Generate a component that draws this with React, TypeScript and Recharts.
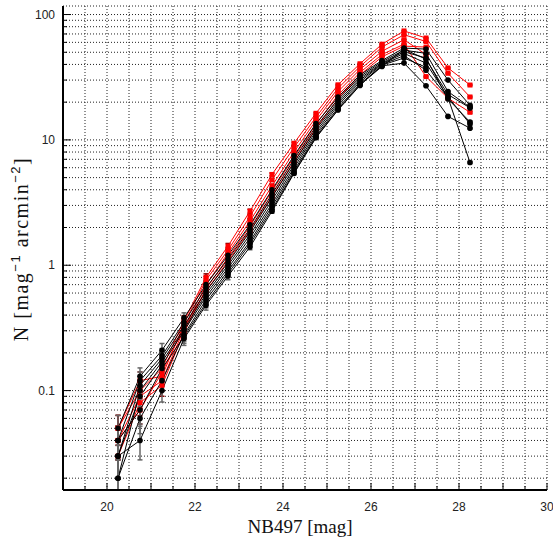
import React from "react";
import { LineChart, Line, XAxis, YAxis, CartesianGrid, ErrorBar, Label } from "recharts";

const MAGS = [20.25, 20.75, 21.25, 21.75, 22.25, 22.75, 23.25, 23.75, 24.25, 24.75, 25.25, 25.75, 26.25, 26.75, 27.25, 27.75, 28.25];

const RED_1 = [0.05, 0.10, 0.15, 0.36, 0.80, 1.42, 2.70, 5.30, 9.4, 16.3, 27.5, 40.5, 58, 74, 65, 37.5, 27.4];
const RED_2 = [0.05, 0.12, 0.13, 0.34, 0.76, 1.32, 2.45, 4.80, 8.7, 15.2, 25.8, 38.5, 55, 69, 61, 34, 22];
const RED_3 = [0.04, 0.09, 0.12, 0.31, 0.70, 1.25, 2.25, 4.30, 8.0, 14.3, 24.3, 36.5, 51, 63, 48, null, null];
const RED_4 = [0.03, 0.08, 0.11, 0.29, 0.65, 1.15, 2.05, 3.90, 7.3, 13.3, 22.8, 34.5, 48, 58, 32, 21.5, 16.6];
const RED_5 = [0.04, 0.07, 0.14, 0.32, 0.62, 1.08, 1.90, 3.55, 6.7, 12.4, 21.3, 33.0, 46, 56, 55, null, null];

const BLACK_1 = [0.05, 0.13, 0.21, 0.38, 0.70, 1.20, 2.10, 4.00, 7.5, 13.5, 22.0, 33.0, 43, 54, 53, 30, 18.9];
const BLACK_2 = [0.04, 0.12, 0.19, 0.35, 0.66, 1.12, 1.95, 3.70, 7.0, 12.8, 21.0, 32.0, 42, 52, 49, 24.3, 18.2];
const BLACK_3 = [0.03, 0.11, 0.18, 0.33, 0.62, 1.05, 1.85, 3.50, 6.6, 12.2, 20.2, 31.0, 41, 50.5, 45, 21.2, 13.9];
const BLACK_4 = [0.02, 0.10, 0.17, 0.31, 0.59, 1.00, 1.75, 3.30, 6.3, 11.7, 19.5, 30.0, 40.5, 49, 41, 22, 13.4];
const BLACK_5 = [0.03, 0.09, 0.16, 0.30, 0.56, 0.95, 1.65, 3.10, 6.0, 11.2, 18.8, 29.0, 40, 47, 36, 21.7, 6.6];
const BLACK_6 = [0.02, 0.06, 0.12, 0.28, 0.53, 0.90, 1.55, 2.95, 5.7, 10.8, 18.0, 28.0, 39, 41, 27, 15.4, 12.4];
const BLACK_7 = [0.04, 0.07, 0.15, 0.27, 0.50, 0.86, 1.48, 2.80, 5.5, 10.5, 17.5, 27.5, 38.5, 53, 44, 23, 18.0];
const BLACK_8 = [0.03, 0.04, 0.10, 0.26, 0.48, 0.82, 1.40, 2.70, 5.4, 10.4, 17.3, 27.2, 39.5, 45, 38, null, null];

const RED_SERIES = [RED_1, RED_2, RED_3, RED_4, RED_5];
const BLACK_SERIES = [BLACK_1, BLACK_2, BLACK_3, BLACK_4, BLACK_5, BLACK_6, BLACK_7, BLACK_8];

// Poisson-like error scale factor
const ERR_SCALE = 0.06;
const Y_MIN = 0.0161;
const Y_MAX = 117;

const X_TICKS = [19, 19.5, 20, 20.5, 21, 21.5, 22, 22.5, 23, 23.5, 24, 24.5, 25, 25.5, 26, 26.5, 27, 27.5, 28, 28.5, 29, 29.5, 30];
const X_LABELED = [20, 22, 24, 26, 28, 30];
const Y_TICKS = [
  0.02, 0.03, 0.04, 0.05, 0.06, 0.07, 0.08, 0.09,
  0.1, 0.2, 0.3, 0.4, 0.5, 0.6, 0.7, 0.8, 0.9,
  1, 2, 3, 4, 5, 6, 7, 8, 9,
  10, 20, 30, 40, 50, 60, 70, 80, 90,
  100,
];
const Y_LABELS: Record<string, string> = { "0.1": "0.1", "1": "1", "10": "10", "100": "100" };

const errOf = (v: number | null) => {
  if (v == null) return null;
  const e = ERR_SCALE * Math.sqrt(v);
  return [Math.min(e, v - Y_MIN * 1.001), e];
};

const data = MAGS.map((m, i) => {
  const row: any = { mag: m };
  RED_SERIES.forEach((s, j) => {
    row[`r${j}`] = s[i];
    row[`r${j}e`] = errOf(s[i]);
  });
  BLACK_SERIES.forEach((s, j) => {
    row[`k${j}`] = s[i];
    row[`k${j}e`] = errOf(s[i]);
  });
  return row;
});

const TICK_FONT = "'Liberation Sans', Arial, sans-serif";
const TITLE_FONT = "'Liberation Serif', 'DejaVu Serif', serif";

const isDecade = (v: number) => Math.abs(Math.log10(v) - Math.round(Math.log10(v))) < 1e-6;

const LeftTick = (props: any) => {
  const { x, y, payload } = props;
  const v = payload.value;
  const major = isDecade(v);
  const lab = Y_LABELS[String(v)];
  return (
    <g>
      <line x1={x} x2={x + (major ? 8 : 4)} y1={y} y2={y} stroke="#000" strokeWidth={1} />
      {lab && (
        <text x={x - 8} y={y} dy={4} textAnchor="end" fontSize={12} fontFamily={TICK_FONT} fill="#222">
          {lab}
        </text>
      )}
    </g>
  );
};

const RightTick = (props: any) => {
  const { x, y, payload } = props;
  const major = isDecade(payload.value);
  return <line x1={x} x2={x - (major ? 8 : 4)} y1={y} y2={y} stroke="#000" strokeWidth={1} />;
};

const BottomTick = (props: any) => {
  const { x, y, payload } = props;
  const v = payload.value;
  const major = Number.isInteger(v);
  return (
    <g>
      <line x1={x} x2={x} y1={y} y2={y - (major ? 7 : 4)} stroke="#000" strokeWidth={1} />
      {X_LABELED.includes(v) && (
        <text x={x} y={y + 21} textAnchor="middle" fontSize={12} fontFamily={TICK_FONT} fill="#222">
          {v}
        </text>
      )}
    </g>
  );
};

const TopTick = (props: any) => {
  const { x, y, payload } = props;
  const major = Number.isInteger(payload.value);
  return <line x1={x} x2={x} y1={y} y2={y + (major ? 7 : 4)} stroke="#000" strokeWidth={1} />;
};

const squareDot = (color: string) => (props: any) => {
  const { cx, cy, index } = props;
  if (cx == null || cy == null || isNaN(cy)) return <g key={index} />;
  return <rect key={index} x={cx - 2.5} y={cy - 2.5} width={5} height={5} fill={color} />;
};
const circleDot = (color: string) => (props: any) => {
  const { cx, cy, index } = props;
  if (cx == null || cy == null || isNaN(cy)) return <g key={index} />;
  return <circle key={index} cx={cx} cy={cy} r={2.8} fill={color} />;
};

export default function App() {
  return (
    <div style={{ position: "absolute", left: 0, top: 0, background: "#fff" }}>
      <LineChart width={553} height={542} data={data} margin={{ top: 6, right: 6, left: 0, bottom: 0 }}>
        <CartesianGrid xAxisId="b" yAxisId="l" stroke="#222" strokeDasharray="1 2" strokeWidth={1} />
        <XAxis
          xAxisId="b"
          dataKey="mag"
          type="number"
          domain={[19, 30]}
          ticks={X_TICKS}
          interval={0}
          allowDataOverflow
          height={52}
          tickSize={0}
          tickMargin={0}
          tickLine={false}
          tick={<BottomTick />}
          axisLine={{ stroke: "#000", strokeWidth: 2 }}
        >
          <Label
            content={() => (
              <text x={300} y={533} textAnchor="middle" fontSize={19} fontFamily={TITLE_FONT} fill="#111">
                NB497 [mag]
              </text>
            )}
          />
        </XAxis>
        <XAxis
          xAxisId="t"
          orientation="top"
          dataKey="mag"
          type="number"
          domain={[19, 30]}
          ticks={X_TICKS}
          interval={0}
          allowDataOverflow
          height={0}
          tickSize={0}
          tickMargin={0}
          tickLine={false}
          tick={<TopTick />}
          axisLine={{ stroke: "#000", strokeWidth: 2 }}
        />
        <YAxis
          yAxisId="l"
          type="number"
          scale="log"
          domain={[Y_MIN, Y_MAX]}
          ticks={Y_TICKS}
          interval={0}
          allowDataOverflow
          width={63}
          tickSize={0}
          tickMargin={0}
          tickLine={false}
          tick={<LeftTick />}
          axisLine={{ stroke: "#000", strokeWidth: 2 }}
        >
          <Label
            content={() => (
              <text
                x={28}
                y={249}
                transform="rotate(-90 28 249)"
                textAnchor="middle"
                fontSize={20}
                letterSpacing={1.5}
                fontFamily={TITLE_FONT}
                fill="#111"
              >
                N [mag
                <tspan fontSize={13} dy={-8} fontFamily={TICK_FONT}>−1</tspan>
                <tspan dy={8}> arcmin</tspan>
                <tspan fontSize={13} dy={-8} fontFamily={TICK_FONT}>−2</tspan>
                <tspan dy={8}>]</tspan>
              </text>
            )}
          />
        </YAxis>
        <YAxis
          yAxisId="r"
          orientation="right"
          type="number"
          scale="log"
          domain={[Y_MIN, Y_MAX]}
          ticks={Y_TICKS}
          interval={0}
          allowDataOverflow
          width={0}
          tickSize={0}
          tickMargin={0}
          tickLine={false}
          tick={<RightTick />}
          axisLine={{ stroke: "#000", strokeWidth: 2 }}
        />
        {RED_SERIES.map((_, j) => (
          <Line
            key={`r${j}`}
            xAxisId="b"
            yAxisId="l"
            dataKey={`r${j}`}
            type="linear"
            stroke="#ff0000"
            strokeWidth={1}
            dot={squareDot("#ff0000")}
            activeDot={false}
            isAnimationActive={false}
          >
            <ErrorBar dataKey={`r${j}e`} width={2.5} stroke="#8b0000" strokeWidth={1.5} direction="y" />
          </Line>
        ))}
        {BLACK_SERIES.map((_, j) => (
          <Line
            key={`k${j}`}
            xAxisId="b"
            yAxisId="l"
            dataKey={`k${j}`}
            type="linear"
            stroke="#000"
            strokeWidth={1}
            dot={circleDot("#000")}
            activeDot={false}
            isAnimationActive={false}
          >
            <ErrorBar dataKey={`k${j}e`} width={2.5} stroke="#666" strokeWidth={1.5} direction="y" />
          </Line>
        ))}
      </LineChart>
    </div>
  );
}
